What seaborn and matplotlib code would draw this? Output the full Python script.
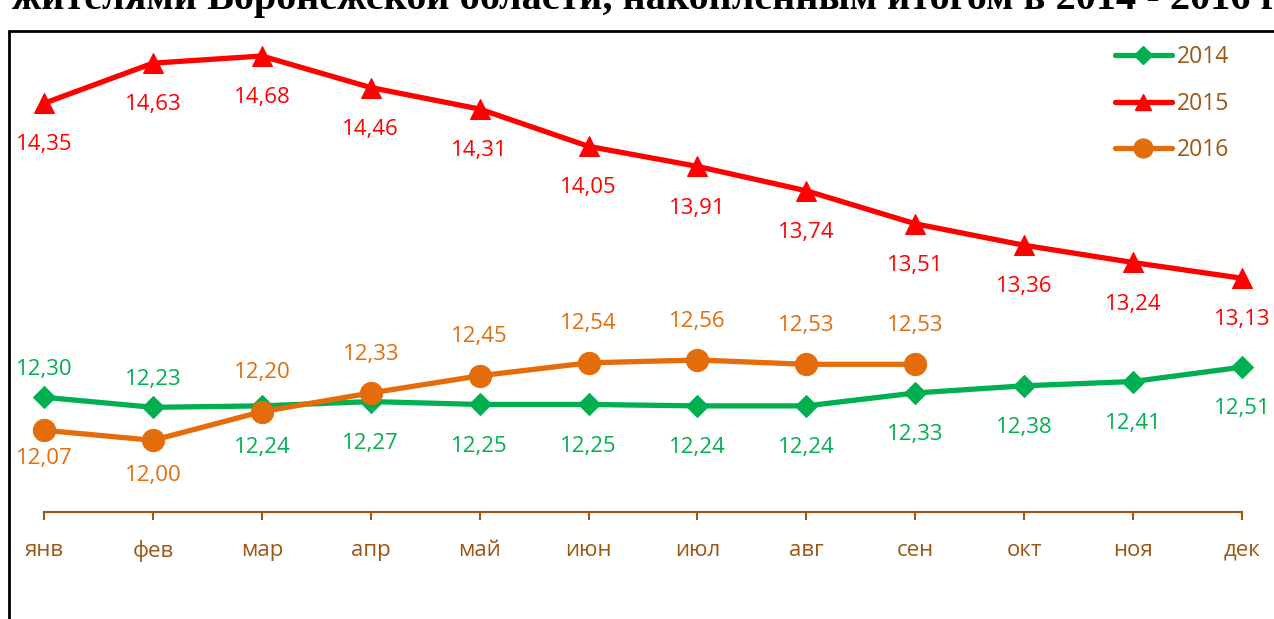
import matplotlib
matplotlib.use("Agg")
import matplotlib.pyplot as plt
import seaborn as sns
import pandas as pd
from matplotlib.lines import Line2D

months = ["янв", "фев", "мар", "апр", "май", "июн", "июл", "авг", "сен", "окт", "ноя", "дек"]
vals_2014 = [12.30, 12.23, 12.24, 12.27, 12.25, 12.25, 12.24, 12.24, 12.33, 12.38, 12.41, 12.51]
vals_2015 = [14.35, 14.63, 14.68, 14.46, 14.31, 14.05, 13.91, 13.74, 13.51, 13.36, 13.24, 13.13]
vals_2016 = [12.07, 12.00, 12.20, 12.33, 12.45, 12.54, 12.56, 12.53, 12.53]
title_text = "жителями Воронежской области, накопленным итогом в 2014 - 2016 г"

sns.set_theme(style="white")
plt.rcParams["font.family"] = ["Open Sans", "DejaVu Sans"]

W, H = 1274, 619
fig = plt.figure(figsize=(W / 100, H / 100), dpi=100)

x0, x1 = 44, 1242
ybot, ytop = 512, 31
ax = fig.add_axes([x0 / W, (H - ybot) / H, (x1 - x0) / W, (ybot - ytop) / H])

C14, C15, C16 = "#00B050", "#FF0000", "#E46C0A"
BROWN = "#9C5714"

series = [
    ("2014", vals_2014, C14, "D", 11),
    ("2015", vals_2015, C15, "^", 14),
    ("2016", vals_2016, C16, "o", 16),
]
for name, vals, col, mk, ms in series:
    df = pd.DataFrame({"x": list(range(len(vals))), "y": vals})
    sns.lineplot(data=df, x="x", y="y", ax=ax, color=col, marker=mk,
                 markersize=ms, markeredgecolor=col, linewidth=3.8,
                 clip_on=False, label=name, legend=False)

ax.set_xlim(0, 11)
ax.set_ylim(11.5, 11.5 + (ybot - ytop) / 143.4)

def fmt(v):
    return f"{v:.2f}".replace(".", ",")

# label offsets (points); positive = below the point, negative = above
off14 = [-20, -20] + [30] * 10
off15 = [30] * 12
off16 = [20, 25] + [-28] * 7
for vals, offs, col in [(vals_2014, off14, C14), (vals_2015, off15, C15), (vals_2016, off16, C16)]:
    for i, (v, o) in enumerate(zip(vals, offs)):
        ax.annotate(fmt(v), (i, v), xytext=(0, -o), textcoords="offset points",
                    ha="center", va="center", color=col, fontsize=16,
                    annotation_clip=False)

ax.set_xticks(range(12))
ax.set_xticklabels(months)
ax.set_yticks([])
ax.set_xlabel("")
ax.set_ylabel("")
for s in ["top", "left", "right"]:
    ax.spines[s].set_visible(False)
ax.spines["bottom"].set_color(BROWN)
ax.spines["bottom"].set_linewidth(1.5)
ax.tick_params(axis="x", direction="out", length=6, width=1.5, color=BROWN,
               labelcolor=BROWN, labelsize=16, pad=14, bottom=True)
ax.patch.set_alpha(0)

handles = [Line2D([], [], color=c, marker=m, markersize=s * 0.85, linewidth=3.8,
                  markeredgecolor=c) for _, _, c, m, s in series]
leg = ax.legend(handles, [s[0] for s in series], loc="upper right",
                bbox_to_anchor=(1238 / W, 1 - 36 / H), bbox_transform=fig.transFigure,
                frameon=False, fontsize=16.5, handlelength=2.5, handletextpad=0.2,
                labelspacing=0.98, borderaxespad=0)
for t in leg.get_texts():
    t.set_color(BROWN)

# chart frame (left and top border)
fig.add_artist(Line2D([9 / W, 9 / W], [0, 1 - 31 / H], color="black", linewidth=2,
                      transform=fig.transFigure))
fig.add_artist(Line2D([9 / W, 1], [1 - 31 / H, 1 - 31 / H], color="black", linewidth=2,
                      transform=fig.transFigure))

# clipped title line at the top (only its lower part is inside the image)
fig.text(12 / W, 1 - 9 / H, title_text, ha="left", va="baseline",
         fontsize=29, fontweight="bold", family=["Liberation Serif", "DejaVu Serif"],
         color="black")

fig.savefig("out.png", dpi=100)
